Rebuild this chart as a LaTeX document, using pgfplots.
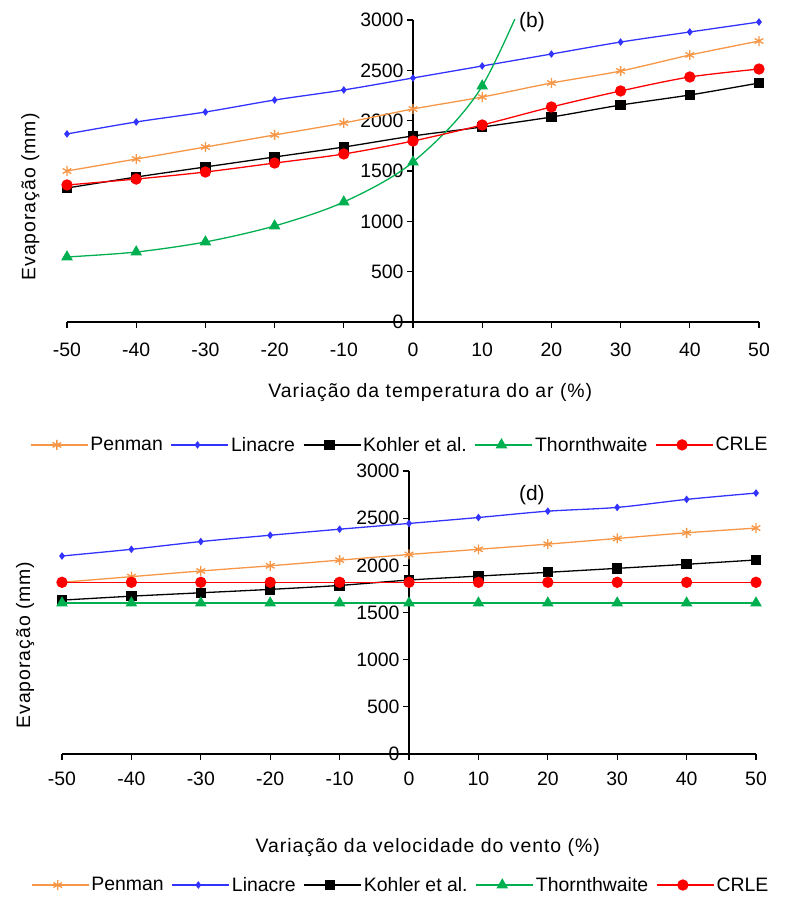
\documentclass[border=0pt]{standalone}
\usepackage{pgfplots}
\pgfplotsset{compat=1.18}
\usepackage{fontspec}
\setmainfont{Liberation Sans}
\newfontfamily\widefont[LetterSpace=5]{Liberation Sans}
\definecolor{cpen}{RGB}{247,150,70}
\definecolor{clin}{RGB}{51,51,255}
\definecolor{cthr}{RGB}{0,176,80}
\definecolor{ccrl}{RGB}{255,0,0}
\newcommand{\myfont}{\fontsize{19.5}{23}\selectfont}
\newcommand{\labfont}{\widefont\fontsize{19.5}{23}\selectfont}
\newcommand{\bigfont}{\fontsize{21}{24}\selectfont}
\pgfplotsset{
  myax/.style={
    scale only axis, anchor=south west,
    axis lines=middle,
    axis line style={-, line width=1.2bp, black},
    xmin=-50, xmax=50, ymin=0, ymax=3000,
    enlargelimits=false,
    clip mode=individual,
    xtick={-50,-40,...,50}, ytick={0,500,...,3000},
    tick align=outside, major tick length=6bp,
    tick style={line width=1.2bp, black},
    hide obscured x ticks=false, hide obscured y ticks=false,
    tick label style={font=\myfont},
    label style={font=\labfont},
    /pgf/number format/.cd, assume math mode=true, 1000 sep={},
    /pgfplots/.cd,
    legend columns=5,
    legend style={draw=none, fill=none, font=\myfont, anchor=center,
      /tikz/every even column/.append style={column sep=6bp}},
    legend image code/.code={\path (0bp,0bp) -- (57bp,0bp);\draw[mark repeat=2, mark phase=2] plot coordinates {(0bp,0bp)(26bp,0bp)(52bp,0bp)};},
  },
  pen/.style={cpen, line width=1.3bp, smooth, mark=asterisk, mark size=5bp, mark options={solid}},
  lin/.style={clin, line width=1.3bp, smooth, mark=diamond*, mark size=2.8bp, mark options={solid, fill=clin}},
  koh/.style={black, line width=1.3bp, smooth, mark=square*, mark size=4.5bp, mark options={solid, fill=black}},
  thr/.style={cthr, line width=1.3bp, smooth, mark=triangle*, mark size=5.5bp, mark options={solid, fill=cthr}},
  crl/.style={ccrl, line width=1.3bp, smooth, mark=*, mark size=5bp, mark options={solid, fill=ccrl}},
}
\begin{document}
\begin{tikzpicture}
\useasboundingbox (0,0) rectangle (789bp,899bp);
% ---------------- top panel (b)
\begin{axis}[myax, at={(67bp,577bp)}, width=692bp, height=302bp,
  xlabel={Variação da temperatura do ar (\%)},
  ylabel={Evaporação (mm)},
  x label style={at={(axis description cs:0.525,-0.232)}, anchor=center},
  y label style={at={(axis description cs:-0.053,0.414)}, anchor=center, rotate=90},
  legend style={at={(axis description cs:0.481,-0.407)}},
  xticklabel style={yshift=-11bp},
]
\addplot[pen] coordinates {(-50,1500)(-40,1619)(-30,1738)(-20,1858)(-10,1977)(0,2116)(10,2235)(20,2374)(30,2493)(40,2652)(50,2791)};
\addlegendentry{Penman}
\addplot[lin] coordinates {(-50,1868)(-40,1987)(-30,2086)(-20,2205)(-10,2305)(0,2424)(10,2543)(20,2662)(30,2781)(40,2881)(50,2980)};
\addlegendentry{Linacre}
\addplot[koh] coordinates {(-50,1331)(-40,1440)(-30,1540)(-20,1639)(-10,1738)(0,1848)(10,1937)(20,2036)(30,2155)(40,2255)(50,2374)};
\addlegendentry{Kohler et al.}
\addplot[thr] coordinates {(-50,646)(-40,695)(-30,795)(-20,954)(-10,1192)(0,1589)(10,2344)(20,3850)};
\addlegendentry{Thornthwaite}
\addplot[crl] coordinates {(-50,1361)(-40,1420)(-30,1490)(-20,1579)(-10,1669)(0,1798)(10,1957)(20,2136)(30,2295)(40,2434)(50,2513)};
\addlegendentry{CRLE}
\node[font=\bigfont, anchor=center] at (axis cs:17.2,2980) {(b)};
\end{axis}
% ---------------- bottom panel (d)
\begin{axis}[myax, at={(62bp,145bp)}, width=694bp, height=283bp,
  xlabel={Variação da velocidade do vento (\%)},
  ylabel={Evaporação (mm)},
  x label style={at={(axis description cs:0.527,-0.332)}, anchor=center},
  y label style={at={(axis description cs:-0.053,0.385)}, anchor=center, rotate=90},
  legend style={at={(axis description cs:0.488,-0.463)}},
  xticklabel style={yshift=-8bp},
]
\addplot[pen] coordinates {(-50,1820)(-40,1880)(-30,1940)(-20,1995)(-10,2055)(0,2115)(10,2170)(20,2225)(30,2285)(40,2345)(50,2395)};
\addlegendentry{Penman}
\addplot[lin] coordinates {(-50,2099)(-40,2170)(-30,2252)(-20,2319)(-10,2383)(0,2444)(10,2507)(20,2574)(30,2614)(40,2699)(50,2766)};
\addlegendentry{Linacre}
\addplot[koh] coordinates {(-50,1631)(-40,1673)(-30,1709)(-20,1745)(-10,1787)(0,1844)(10,1886)(20,1926)(30,1968)(40,2011)(50,2057)};
\addlegendentry{Kohler et al.}
\addplot[thr] coordinates {(-50,1600)(-40,1600)(-30,1600)(-20,1600)(-10,1600)(0,1600)(10,1600)(20,1600)(30,1600)(40,1600)(50,1600)};
\addlegendentry{Thornthwaite}
\addplot[crl] coordinates {(-50,1820)(-40,1820)(-30,1820)(-20,1820)(-10,1820)(0,1820)(10,1820)(20,1820)(30,1820)(40,1820)(50,1820)};
\addlegendentry{CRLE}
\node[font=\bigfont, anchor=center] at (axis cs:17.7,2746) {(d)};
\end{axis}
\end{tikzpicture}
\end{document}
